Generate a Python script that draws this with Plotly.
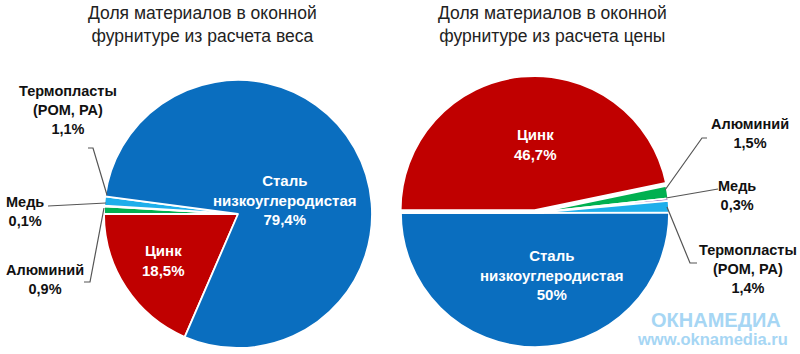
import plotly.graph_objects as go

# ---- data ----
categories = ["Цинк", "Алюминий", "Медь", "Термопласты<br>(POM, PA)", "Сталь<br>низкоуглеродистая"]
weight_values = [18.5, 0.9, 0.1, 1.1, 79.4]
price_values = [46.7, 1.5, 0.3, 1.4, 50]
titles = ["Доля материалов в оконной<br>фурнитуре из расчета веса",
          "Доля материалов в оконной<br>фурнитуре из расчета цены"]
colors = ["#C00000", "#00B050", "#7030A0", "#1EAEEB", "#0A6EBF"]

W, H = 800, 354


def px(x, y):
    return x / W, 1 - y / H


def fmt(v):
    return f"{v:g}".replace(".", ",") + "%"


fig = go.Figure()

# left pie: center (238,214) r~134
fig.add_trace(go.Pie(
    labels=categories, values=weight_values, sort=False, direction="clockwise",
    rotation=203.4, textinfo="none", hoverinfo="label+value",
    marker=dict(colors=colors, line=dict(color="white", width=1.8)),
    domain=dict(x=[104 / W, 372 / W], y=[1 - 348 / H, 1 - 80 / H]),
    showlegend=False,
))
# right pie: center (535,213)
fig.add_trace(go.Pie(
    labels=categories, values=price_values, sort=False, direction="clockwise",
    rotation=270, textinfo="none", hoverinfo="label+value",
    pull=[0.022, 0, 0, 0, 0],
    marker=dict(colors=colors, line=dict(color="white", width=1.8)),
    domain=dict(x=[398 / W, 672 / W], y=[1 - 350 / H, 1 - 76 / H]),
    showlegend=False,
))

FONT = "Liberation Sans, Arial, sans-serif"
ann = []


def add_text(text, x, y, color="#111111", size=15, bold=True):
    xx, yy = px(x, y)
    ann.append(dict(text=f"<b>{text}</b>" if bold else text, x=xx, y=yy,
                    xref="paper", yref="paper", xanchor="center", yanchor="middle",
                    showarrow=False, font=dict(family=FONT, size=size, color=color)))


# titles
add_text(titles[0], 202, 25, color="#222222", size=17.5, bold=False)
add_text(titles[1], 552, 25, color="#222222", size=17.5, bold=False)

# left pie labels (weight)
add_text(categories[4] + "<br>" + fmt(weight_values[4]), 285, 200, color="white")
add_text(categories[0] + "<br>" + fmt(weight_values[0]), 163, 260, color="white")
add_text(categories[3] + "<br>" + fmt(weight_values[3]), 68, 110, size=14.5)
add_text(categories[2] + "<br>" + fmt(weight_values[2]), 25, 211, size=14.5)
add_text(categories[1] + "<br>" + fmt(weight_values[1]), 45, 279, size=14.5)

# right pie labels (price)
add_text(categories[0] + "<br>" + fmt(price_values[0]), 535, 145, color="white")
add_text(categories[4] + "<br>" + fmt(price_values[4]), 552, 275, color="white")
add_text(categories[1] + "<br>" + fmt(price_values[1]), 750, 133, size=14.5)
add_text(categories[2] + "<br>" + fmt(price_values[2]), 737, 195, size=14.5)
add_text(categories[3] + "<br>" + fmt(price_values[3]), 748, 269, size=14.5)

# watermark
add_text("ОКНАМЕДИА", 716, 320, color="#A6D6F4", size=20)
add_text("www.oknamedia.ru", 712, 339, color="#A6D6F4", size=16.5)

# leader lines
leaders = [
    [(88, 148), (93, 148), (107, 195)],
    [(48, 206), (106, 203)],
    [(84, 282), (90, 282), (104, 208)],
    [(707, 138), (702, 138), (665, 190)],
    [(718, 189), (666, 198)],
    [(667, 207), (690, 263), (697, 263)],
]
shapes = []
for pts in leaders:
    d = ""
    for i, (x, y) in enumerate(pts):
        xx, yy = px(x, y)
        d += ("M" if i == 0 else "L") + f"{xx},{yy} "
    shapes.append(dict(type="path", path=d.strip(), xref="paper", yref="paper",
                       line=dict(color="#555555", width=1.2)))

fig.update_layout(
    width=W, height=H, margin=dict(l=0, r=0, t=0, b=0),
    paper_bgcolor="white", plot_bgcolor="white",
    annotations=ann, shapes=shapes,
)

fig.write_html("out.html")
